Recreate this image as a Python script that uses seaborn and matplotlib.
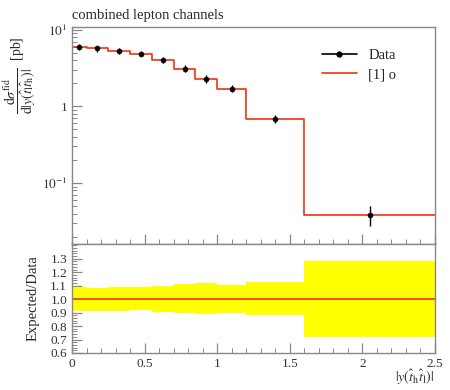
import numpy as np
import pandas as pd
import matplotlib
matplotlib.use("Agg")
import matplotlib.pyplot as plt
import matplotlib.ticker as mticker
import seaborn as sns

# ----------------------------------------
# Data
# ----------------------------------------
bin_edges = [0.0, 0.1, 0.25, 0.4, 0.55, 0.7, 0.85, 1.0, 1.2, 1.6, 2.5]
bin_centres = [0.05, 0.175, 0.325, 0.475, 0.625, 0.775, 0.925, 1.1, 1.4, 2.05]
data_vals = [6.06, 5.71, 5.32, 4.91, 4.03, 3.10, 2.30, 1.70, 0.69, 0.0387]
data_err_up = [0.54, 0.47, 0.47, 0.43, 0.40, 0.34, 0.27, 0.18, 0.087, 0.0110]
data_err_dn = [0.53, 0.50, 0.46, 0.41, 0.39, 0.32, 0.26, 0.177, 0.083, 0.0109]
mc_vals = [6.06, 5.71, 5.32, 4.91, 4.03, 3.10, 2.30, 1.70, 0.69, 0.0387]

sns.set_style("ticks")
plt.rcParams["font.family"] = ["Liberation Serif", "DejaVu Serif"]
plt.rcParams["mathtext.fontset"] = "stix"

spine_col = "#888888"
red = "#EE3311"

fig = plt.figure(figsize=(4.5, 3.9), dpi=100)
ax = fig.add_axes([0.16, 0.3744, 0.8067, 0.5564])
rax = fig.add_axes([0.16, 0.0949, 0.8067, 0.2795], sharex=ax)

# ----------------------------------------
# Main panel
# ----------------------------------------
step_df = pd.DataFrame({"x": bin_edges, "y": mc_vals + [mc_vals[-1]]})
sns.lineplot(data=step_df, x="x", y="y", ax=ax, color=red, lw=1.2,
             drawstyle="steps-post", zorder=2, legend=False)

ax.errorbar(bin_centres, data_vals, yerr=[data_err_dn, data_err_up],
            fmt="none", ecolor="black", elinewidth=1.0, zorder=3)
sns.scatterplot(x=bin_centres, y=data_vals, ax=ax, color="black", s=14,
                edgecolor="black", zorder=4, legend=False)

ax.set_yscale("log")
ax.set_ylim(0.016, 10.9)
ax.set_xlim(0, 2.5)


def log_fmt(v, pos):
    if np.isclose(v, 1):
        return "1"
    e = int(round(np.log10(v)))
    return r"$10^{%d}$" % e


ax.yaxis.set_major_locator(mticker.LogLocator(base=10, numticks=10))
ax.yaxis.set_major_formatter(mticker.FuncFormatter(log_fmt))
ax.yaxis.set_minor_locator(mticker.LogLocator(base=10, subs=np.arange(2, 10), numticks=20))
ax.yaxis.set_minor_formatter(mticker.NullFormatter())
ax.xaxis.set_major_locator(mticker.MultipleLocator(0.5))
ax.xaxis.set_minor_locator(mticker.MultipleLocator(0.1))
ax.tick_params(axis="x", labelbottom=False)
ax.set_xlabel("")
ax.set_ylabel(r"$\dfrac{\mathrm{d}\sigma^{\mathrm{fid}}}{\mathrm{d}|y(\hat{t}_\mathrm{l}\hat{t}_\mathrm{h})|}$  [pb]",
              fontsize=10)
ax.yaxis.set_label_coords(-0.095, 0.78)
ax.set_title("combined lepton channels", loc="left", fontsize=10.5, pad=6)

handles = [
    plt.Line2D([], [], color="black", marker="o", ms=3.5, lw=1.2),
    plt.Line2D([], [], color=red, lw=1.2),
]
ax.legend(handles, ["Data", "[1] o"], loc="upper right", bbox_to_anchor=(0.93, 0.96),
          frameon=False, fontsize=10.5, handlelength=2.4, labelspacing=0.4)

# ----------------------------------------
# Ratio panel
# ----------------------------------------
ratio_hi = [1 + u / d for u, d in zip(data_err_up, data_vals)]
ratio_lo = [1 - e / d for e, d in zip(data_err_dn, data_vals)]
rax.fill_between(bin_edges, ratio_lo + [ratio_lo[-1]], ratio_hi + [ratio_hi[-1]],
                 step="post", color="#FFFF00", lw=0, zorder=1)
ratio_df = pd.DataFrame({"x": bin_edges,
                         "y": [m / d for m, d in zip(mc_vals, data_vals)] + [mc_vals[-1] / data_vals[-1]]})
sns.lineplot(data=ratio_df, x="x", y="y", ax=rax, color=red, lw=1.2,
             drawstyle="steps-post", zorder=2)

rax.set_ylim(0.6, 1.41)
rax.set_xlim(0, 2.5)
rax.yaxis.set_major_locator(mticker.FixedLocator([0.6, 0.7, 0.8, 0.9, 1.0, 1.1, 1.2, 1.3]))
rax.yaxis.set_major_formatter(mticker.FormatStrFormatter("%.1f"))
rax.yaxis.set_minor_locator(mticker.MultipleLocator(0.02))
rax.xaxis.set_major_locator(mticker.MultipleLocator(0.5))
rax.xaxis.set_minor_locator(mticker.MultipleLocator(0.1))
rax.xaxis.set_major_formatter(mticker.FuncFormatter(lambda v, p: "%g" % v))
rax.set_ylabel("Expected/Data", fontsize=10.5, labelpad=8)
rax.set_xlabel("")
fig.text(0.965, 0.008, r"$|y(\hat{t}_\mathrm{h}\hat{t}_\mathrm{l})|$", fontsize=10,
         ha="right", va="bottom")

for a in (ax, rax):
    for s in a.spines.values():
        s.set_visible(True)
        s.set_color(spine_col)
        s.set_linewidth(1.0)
    a.tick_params(which="both", direction="in", color=spine_col, labelsize=9.5,
                  labelcolor="#333333", top=False, right=False)
    a.tick_params(which="major", length=7, width=0.9)
    a.tick_params(which="minor", length=3.5, width=0.7)

plt.savefig("out.png", dpi=100)
